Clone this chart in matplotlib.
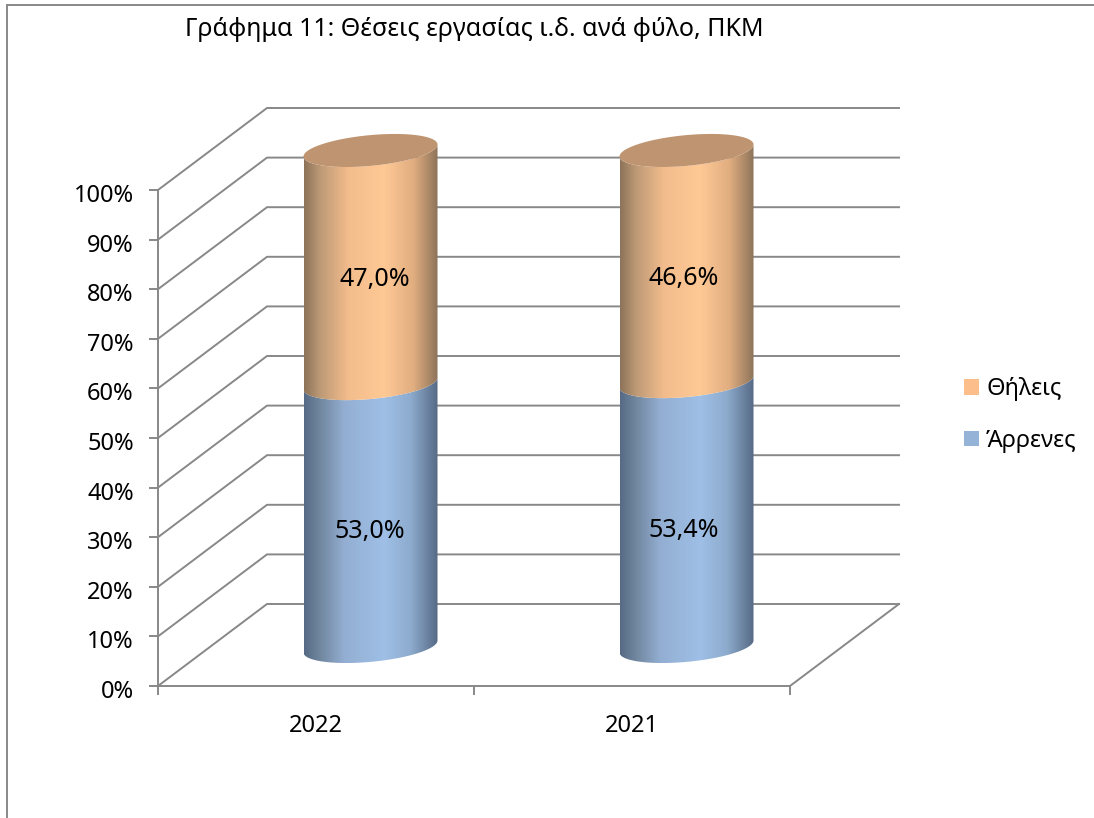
import numpy as np
import matplotlib
matplotlib.use("Agg")
import matplotlib.pyplot as plt
from matplotlib.colors import LinearSegmentedColormap
from matplotlib.lines import Line2D
from matplotlib.patches import Patch, Polygon
from matplotlib.ticker import FuncFormatter
from matplotlib.transforms import Affine2D

years = ["2022", "2021"]
male = [53.0, 53.4]
female = [47.0, 46.6]
yticks = list(range(0, 101, 10))
male_labels = ["53,0%", "53,4%"]
female_labels = ["47,0%", "46,6%"]
series_names = ["Θήλεις", "Άρρενες"]
title = "Γράφημα 11: Θέσεις εργασίας ι.δ. ανά φύλο, ΠΚΜ"

plt.rcParams["font.family"] = ["Noto Sans", "DejaVu Sans"]
W, H = 1094, 818
FS = 17
GREY = "#888888"

fig = plt.figure(figsize=(W / 100, H / 100), dpi=100, facecolor="white")
ax = fig.add_axes([158 / W, (H - 686) / H, 632 / W, 496 / H])
ax.set_xlim(0, 2)
ax.set_ylim(0, 100)
ax.set_autoscale_on(False)
ax.patch.set_alpha(0)

px, py = 2 / 632, 100 / 496        # data units per pixel
dx, dy = 109 * px, 82 * py         # depth of the 3D box
ux, uy = 67 * px, 6 * py           # ellipse major vector
vy = 15.4 * py                     # ellipse minor vector

# walls
for v in yticks:
    ax.plot([0, dx, 2 + dx], [v, v + dy, v + dy], color=GREY, lw=1.4,
            clip_on=False, zorder=1, solid_joinstyle="miter")
ax.plot([2, 2 + dx], [0, dy], color=GREY, lw=1.4, clip_on=False, zorder=1)


def arc(cx, cy, t0, t1, n=60):
    t = np.linspace(t0, t1, n)
    return cx + ux * np.cos(t), cy + uy * np.cos(t) + vy * np.sin(t)


def segment(cx, base, top, cmap, z):
    x0, y0 = arc(cx, base + dy / 2 - 0.3, np.pi, 2 * np.pi)
    x1, y1 = arc(cx, top + dy / 2 - 0.3, 2 * np.pi, np.pi)
    xy = np.c_[np.r_[x0, x1], np.r_[y0, y1]]
    clip = Polygon(xy, closed=True, transform=ax.transData)
    grad = np.linspace(0, 1, 256)[None, :]
    im = ax.imshow(grad, extent=(cx - ux, cx + ux, base - 10, top + dy + 10),
                   aspect="auto", cmap=cmap, zorder=z, interpolation="bilinear")
    im.set_clip_box(fig.bbox)
    im.set_clip_path(clip)


blue = LinearSegmentedColormap.from_list("b", [(0, "#566a85"), (0.12, "#71879f"), (0.3, "#93aed2"),
                                               (0.6, "#9fbfe6"), (0.8, "#8dabcd"), (1, "#566a85")])
orange = LinearSegmentedColormap.from_list("o", [(0, "#8d7359"), (0.12, "#bd9a76"), (0.33, "#f3bc8c"),
                                                 (0.6, "#ffc995"), (0.82, "#e0ad80"), (1, "#8d7359")])

for i, name in enumerate(years):
    cx = i + 0.5 + dx / 2
    segment(cx, 0, male[i], blue, 3)
    segment(cx, male[i], male[i] + female[i], orange, 4)
    xt, yt = arc(cx, male[i] + female[i] + dy / 2 - 0.3, 0, 2 * np.pi, 120)
    ax.fill(xt, yt, color="#bf9470", lw=0, zorder=5, clip_on=False)
    ax.annotate(male_labels[i], (cx, male[i] / 2 + dy / 2), xytext=(-1 if i == 0 else -3, -18),
                textcoords="offset pixels", ha="center", va="center", fontsize=18, color="black", zorder=6)
    ax.annotate(female_labels[i], (cx, male[i] + female[i] / 2 + dy / 2), xytext=(4 if i == 0 else -3, -14),
                textcoords="offset pixels", ha="center", va="center", fontsize=18, color="black", zorder=6)

# axes
for s in ("top", "right"):
    ax.spines[s].set_visible(False)
for s in ("left", "bottom"):
    ax.spines[s].set_color(GREY)
    ax.spines[s].set_linewidth(1.4)
    ax.spines[s].set_zorder(2)
ax.set_yticks(yticks)
ax.yaxis.set_major_formatter(FuncFormatter(lambda v, _: f"{v:.0f}%"))
ax.tick_params(axis="y", length=6.5, width=1.4, color=GREY, pad=11, labelsize=FS)
for lab in ax.get_yticklabels():
    lab.set_transform(lab.get_transform() + Affine2D().translate(0, -3))
ax.set_xticks([0, 1, 2])
ax.set_xticklabels([])
ax.tick_params(axis="x", which="major", length=6.5, width=1.4, color=GREY)
ax.set_xticks([0.5, 1.5], minor=True)
ax.set_xticklabels(years, minor=True)
ax.tick_params(axis="x", which="minor", length=0, pad=20, labelsize=FS)

# title and frame
fig.text(474.5 / W, 1 - 30 / H, title, ha="center", va="center", fontsize=18, color="black")
fig.add_artist(Line2D([7 / W, 7 / W, 1], [0, 1 - 5 / H, 1 - 5 / H], color=GREY, lw=1.4,
                      transform=fig.transFigure, solid_joinstyle="miter"))

# legend
handles = [Patch(color="#fcbf8b", lw=0), Patch(color="#95b3d7", lw=0)]
fs_px = FS * 100 / 72
fig.legend(handles, series_names, loc="center left", bbox_to_anchor=(964 / W, 1 - 415 / H),
           borderaxespad=0, borderpad=0, frameon=False, fontsize=FS,
           handlelength=15 / fs_px, handleheight=15 / fs_px,
           handletextpad=7 / fs_px, labelspacing=1.15)

fig.savefig("out.png", dpi=100)
